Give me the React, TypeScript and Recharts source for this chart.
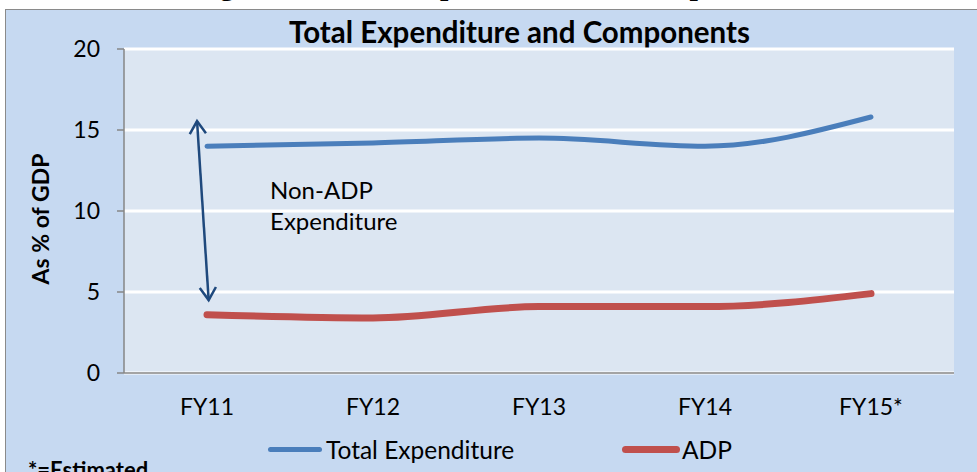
import React from 'react';
import { LineChart, Line, XAxis, YAxis, CartesianGrid, ReferenceLine, Legend } from 'recharts';

const categories = ['FY11', 'FY12', 'FY13', 'FY14', 'FY15*'];
const totalExpenditure = [14.0, 14.2, 14.5, 14.0, 15.8];
const adpValues = [3.6, 3.4, 4.1, 4.1, 4.9];
const yTicks = [0, 5, 10, 15, 20];
const boundaryTicks = [-0.5, 0.5, 1.5, 2.5, 3.5, 4.5];
const labelTicks = [0, 1, 2, 3, 4];
const arrowSegment = [{ x: -0.06, y: 15.55 }, { x: 0.01, y: 4.5 }];
const seriesNames = ['Total Expenditure', 'ADP'];

const data = categories.map((c, i) => ({ i, cat: c, total: totalExpenditure[i], adp: adpValues[i] }));

const FONT = 'Lato, "Noto Sans", sans-serif';
const BLUE = '#4a7ebb';
const RED = '#c0504d';
const ARROW = '#1f497d';

const ArrowShape = (props: any) => {
  const { x1, y1, x2, y2 } = props;
  const ang = Math.atan2(y2 - y1, x2 - x1);
  const L = 15;
  const A = Math.PI / 5.5;
  const head = (x: number, y: number, d: number) =>
    `${x - L * Math.cos(d - A)},${y - L * Math.sin(d - A)} ${x},${y} ${x - L * Math.cos(d + A)},${y - L * Math.sin(d + A)}`;
  return (
    <g>
      <line x1={x1} y1={y1} x2={x2} y2={y2} stroke={ARROW} strokeWidth={2.5} />
      <polyline points={head(x2, y2, ang)} fill="none" stroke={ARROW} strokeWidth={2.5} />
      <polyline points={head(x1, y1, ang + Math.PI)} fill="none" stroke={ARROW} strokeWidth={2.5} />
      <text x={x1 + 73} y={y1 + 78} fontFamily={FONT} fontSize={24} fill="#000">Non-ADP</text>
      <text x={x1 + 73} y={y1 + 109} fontFamily={FONT} fontSize={24} fill="#000">Expenditure</text>
    </g>
  );
};

const LegendContent = () => (
  <div style={{ position: 'relative', width: 470, height: 30, fontFamily: FONT, fontSize: 24.5, color: '#000' }}>
    <div style={{ position: 'absolute', left: 2, top: 12, width: 54, height: 5, borderRadius: 3, background: BLUE }} />
    <div style={{ position: 'absolute', left: 60, top: 0, lineHeight: '30px', whiteSpace: 'nowrap' }}>{seriesNames[0]}</div>
    <div style={{ position: 'absolute', left: 356, top: 11, width: 58, height: 7, borderRadius: 4, background: RED }} />
    <div style={{ position: 'absolute', left: 416, top: 0, lineHeight: '30px', whiteSpace: 'nowrap' }}>{seriesNames[1]}</div>
  </div>
);

export default function App() {
  return (
    <div style={{ position: 'absolute', left: 0, top: 0, width: 977, height: 472, overflow: 'hidden', background: '#fff' }}>
      <div
        style={{
          position: 'absolute',
          left: 193,
          top: -30,
          fontFamily: '"Liberation Serif", "Times New Roman", serif',
          fontWeight: 'bold',
          fontSize: 30,
          lineHeight: '30px',
          whiteSpace: 'nowrap',
          color: '#000',
        }}
      >
        Figure 12: Total Expenditure and Components
      </div>
      <div
        style={{
          position: 'absolute',
          left: 5,
          top: 9,
          width: 990,
          height: 480,
          background: '#c6d9f1',
          borderLeft: '1.5px solid #8a8a8a',
          borderTop: '1.5px solid #8a8a8a',
        }}
      />
      <div
        style={{
          position: 'absolute',
          left: 0,
          top: 14,
          width: 977,
          textAlign: 'center',
          paddingLeft: 62,
          boxSizing: 'border-box',
          fontFamily: FONT,
          fontWeight: 'bold',
          fontSize: 29.5,
          lineHeight: '36px',
          color: '#000',
        }}
      >
        Total Expenditure and Components
      </div>
      <div
        style={{
          position: 'absolute',
          left: 28,
          top: 457,
          fontFamily: FONT,
          fontWeight: 'bold',
          fontSize: 22,
          lineHeight: '26px',
          color: '#000',
          whiteSpace: 'nowrap',
        }}
      >
        *=Estimated
      </div>
      <div style={{ position: 'absolute', left: 0, top: 0 }}>
        <LineChart width={977} height={472} data={data} margin={{ top: 49, right: 23, bottom: 30, left: 0 }}>
          <CartesianGrid vertical={false} stroke="#ffffff" strokeWidth={3} fill="#dce6f2" />
          <XAxis
            xAxisId={0}
            dataKey="i"
            type="number"
            domain={[-0.5, 4.5]}
            ticks={boundaryTicks}
            tick={false}
            tickSize={7}
            height={8}
            axisLine={{ stroke: '#868686', strokeWidth: 1.5 }}
            tickLine={{ stroke: '#868686', strokeWidth: 1.5 }}
          />
          <XAxis
            xAxisId="lab"
            dataKey="i"
            type="number"
            domain={[-0.5, 4.5]}
            ticks={labelTicks}
            tickFormatter={(v: number) => categories[v]}
            axisLine={false}
            tickLine={false}
            tickSize={0}
            tickMargin={18}
            height={61}
            tick={{ fontFamily: FONT, fontSize: 23, fill: '#000' }}
          />
          <YAxis
            domain={[0, 20]}
            ticks={yTicks}
            width={124}
            tickSize={7}
            tickMargin={17}
            axisLine={{ stroke: '#868686', strokeWidth: 1.5 }}
            tickLine={{ stroke: '#868686', strokeWidth: 1.5 }}
            tick={{ fontFamily: FONT, fontSize: 23, fill: '#000' }}
            label={{
              content: (p: any) => {
                const vb = p.viewBox;
                const cx = 40;
                const cy = vb.y + vb.height / 2 + 8;
                return (
                  <text
                    x={cx}
                    y={cy}
                    transform={`rotate(-90 ${cx} ${cy})`}
                    textAnchor="middle"
                    dominantBaseline="central"
                    fontFamily={FONT}
                    fontWeight="bold"
                    fontSize={23}
                    fill="#000"
                  >
                    As % of GDP
                  </text>
                );
              },
            }}
          />
          <ReferenceLine segment={arrowSegment} shape={ArrowShape} ifOverflow="visible" />
          <Line
            dataKey="total"
            name={seriesNames[0]}
            type="monotone"
            stroke={BLUE}
            strokeWidth={5}
            strokeLinecap="round"
            dot={false}
            isAnimationActive={false}
          />
          <Line
            dataKey="adp"
            name={seriesNames[1]}
            type="monotone"
            stroke={RED}
            strokeWidth={7}
            strokeLinecap="round"
            dot={false}
            isAnimationActive={false}
          />
          <Legend
            layout="horizontal"
            verticalAlign="middle"
            align="center"
            content={<LegendContent />}
            wrapperStyle={{ position: 'absolute', left: 266, top: 435, width: 470, height: 30 }}
          />
        </LineChart>
      </div>
    </div>
  );
}
